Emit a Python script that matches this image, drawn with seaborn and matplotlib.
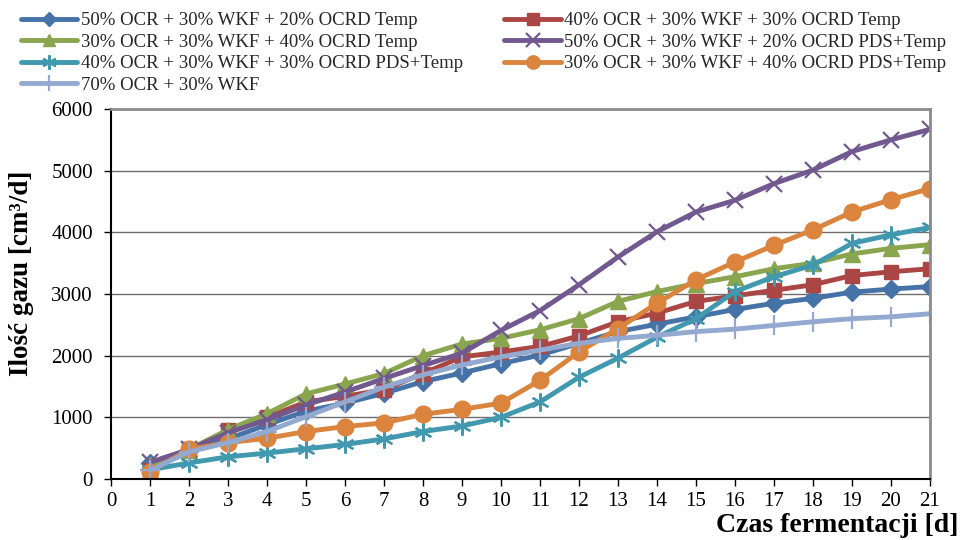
import matplotlib
matplotlib.use("Agg")
import matplotlib.pyplot as plt
import seaborn as sns
import pandas as pd

days = list(range(1, 22))

labels = [
    "50% OCR + 30% WKF + 20% OCRD Temp",
    "40% OCR + 30% WKF + 30% OCRD Temp",
    "30% OCR + 30% WKF + 40% OCRD Temp",
    "50% OCR + 30% WKF + 20% OCRD PDS+Temp",
    "40% OCR + 30% WKF + 30% OCRD PDS+Temp",
    "30% OCR + 30% WKF + 40% OCRD PDS+Temp",
    "70% OCR + 30% WKF",
]

s_50_20_temp = [260, 470, 650, 880, 1100, 1230, 1390, 1580, 1720, 1870, 2010,
                2200, 2390, 2510, 2630, 2750, 2850, 2930, 3030, 3080, 3120]
s_40_30_temp = [150, 480, 790, 1000, 1250, 1340, 1450, 1710, 1980, 2060, 2150,
                2320, 2550, 2690, 2880, 2970, 3060, 3150, 3300, 3360, 3410]
s_30_40_temp = [220, 470, 800, 1060, 1380, 1540, 1710, 2000, 2190, 2280, 2420,
                2600, 2880, 3040, 3170, 3280, 3410, 3500, 3650, 3740, 3800]
s_50_20_pds = [270, 480, 750, 960, 1200, 1410, 1630, 1840, 2040, 2410, 2730,
               3150, 3600, 4010, 4330, 4520, 4790, 5010, 5310, 5500, 5670]
s_40_30_pds = [150, 260, 360, 420, 490, 560, 650, 770, 860, 1000, 1250,
               1650, 1960, 2300, 2600, 3040, 3280, 3470, 3820, 3960, 4080]
s_30_40_pds = [120, 480, 590, 660, 770, 850, 910, 1050, 1130, 1230, 1600,
               2060, 2440, 2850, 3230, 3520, 3790, 4040, 4330, 4530, 4710]
s_70_30 = [140, 440, 590, 770, 1010, 1250, 1490, 1690, 1850, 1980, 2090,
           2200, 2280, 2330, 2390, 2430, 2490, 2550, 2600, 2630, 2680]

series = [s_50_20_temp, s_40_30_temp, s_30_40_temp, s_50_20_pds,
          s_40_30_pds, s_30_40_pds, s_70_30]

colors = ["#4572A7", "#AA4643", "#89A54E", "#71588F", "#4198AF", "#DB843D", "#93A9CF"]
markers = ["D", "s", "^", "x", (6, 2, 0), "o", "+"]
msizes = [9, 10, 11, 12, 13, 12, 14]
mews = [1, 1, 1, 1.6, 1.6, 1, 1.6]

sns.set_theme(style="white")
plt.rcParams["font.family"] = ["Liberation Serif", "DejaVu Serif"]

fig = plt.figure(figsize=(9.61, 5.40), dpi=100)
ax = fig.add_axes([111 / 961, 1 - 479 / 540, (930 - 111) / 961, (479 - 109) / 540])

handles = {}
for lab, vals, c, m, ms, mw in zip(labels, series, colors, markers, msizes, mews):
    df = pd.DataFrame({"day": days, "val": vals})
    sns.lineplot(data=df, x="day", y="val", ax=ax, color=c, linewidth=3.5,
                 marker=m, markersize=ms, markeredgewidth=mw,
                 markeredgecolor=c, markerfacecolor=c, label=lab, legend=False)
    handles[lab] = ax.lines[-1]

ax.set_xlim(0, 21)
ax.set_ylim(0, 6000)
ax.set_xticks(range(0, 22))
ax.set_yticks(range(0, 6001, 1000))
ax.set_xlabel("")
ax.set_ylabel("")
ax.yaxis.grid(True, color="#6e6e6e", linewidth=1.0)
ax.xaxis.grid(False)
ax.set_axisbelow(True)
ax.tick_params(axis="y", labelsize=15, direction="out", length=5,
               width=1, color="black", pad=8, left=True)
ax.tick_params(axis="x", labelsize=15, direction="out", length=5,
               width=1, color="black", pad=4, bottom=True)
for sp in ["left", "bottom"]:
    ax.spines[sp].set_color("black")
    ax.spines[sp].set_linewidth(1.5)
for sp in ["top", "right"]:
    ax.spines[sp].set_color("#8c8c8c")
    ax.spines[sp].set_linewidth(2)
for t in ax.get_xticklabels() + ax.get_yticklabels():
    t.set_color("black")

order = [labels[0], labels[2], labels[4], labels[6], labels[1], labels[3], labels[5]]
leg = fig.legend([handles[l] for l in order], order, loc="upper left",
                 bbox_to_anchor=(21 / 961, 1 - 12 / 540), ncol=2, frameon=False,
                 fontsize=13.5, handlelength=3.0, handletextpad=0.2,
                 columnspacing=2.2, labelspacing=0.24, borderaxespad=0,
                 borderpad=0, numpoints=1, markerscale=0.8)

fig.text(22 / 961, 1 - 273 / 540, "Ilość gazu [cm³/d]", rotation=90,
         ha="center", va="center", fontsize=19.5, fontweight="bold", color="black")
fig.text(958 / 961, 1 - 526 / 540, "Czas fermentacji [d]", ha="right",
         va="center", fontsize=20, fontweight="bold", color="black")

fig.savefig("out.png", dpi=100)
